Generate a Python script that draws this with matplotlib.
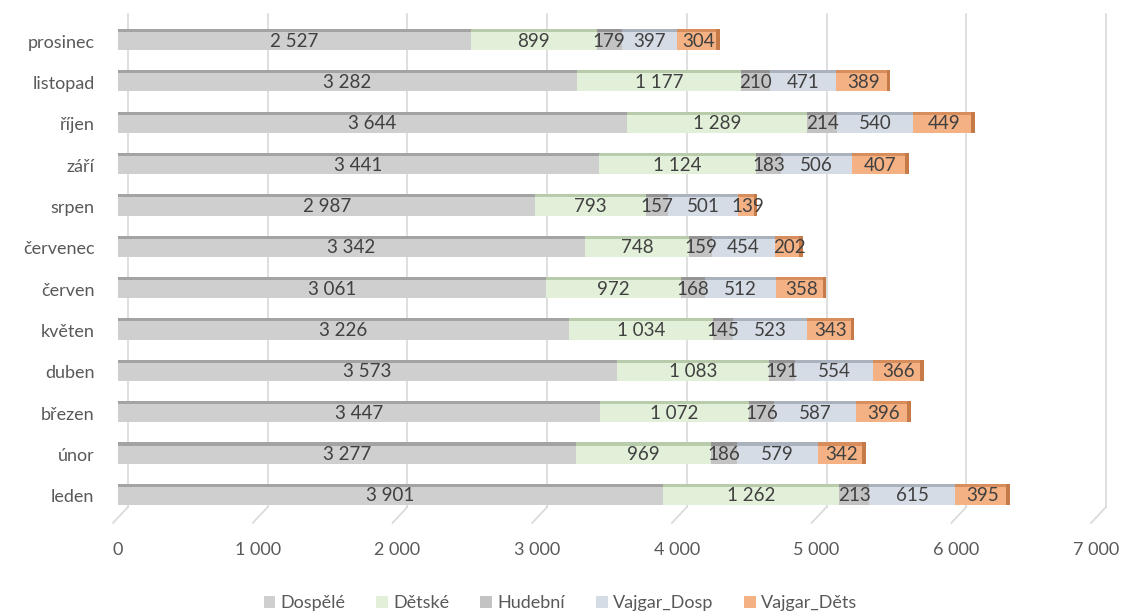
import matplotlib.pyplot as plt
import matplotlib.transforms as mtransforms
from matplotlib.patches import Patch
import numpy as np

plt.rcParams['font.family'] = ['Lato', 'DejaVu Sans']

months = ["leden", "únor", "březen", "duben", "květen", "červen",
          "červenec", "srpen", "září", "říjen", "listopad", "prosinec"]
series_names = ["Dospělé", "Dětské", "Hudební", "Vajgar_Dosp", "Vajgar_Děts"]
dospele = [3901, 3277, 3447, 3573, 3226, 3061, 3342, 2987, 3441, 3644, 3282, 2527]
detske = [1262, 969, 1072, 1083, 1034, 972, 748, 793, 1124, 1289, 1177, 899]
hudebni = [213, 186, 176, 191, 145, 168, 159, 157, 183, 214, 210, 179]
vajgar_dosp = [615, 579, 587, 554, 523, 512, 454, 501, 506, 540, 471, 397]
vajgar_dets = [395, 342, 396, 366, 343, 358, 202, 139, 407, 449, 389, 304]
xticks = [0, 1000, 2000, 3000, 4000, 5000, 6000, 7000]

face = ["#d0cfcf", "#e2f0d9", "#c3c3c3", "#d6dce5", "#f4b183"]
top = ["#a3a3a3", "#b8ccab", "#949494", "#aab2bd", "#d88e5c"]


def fmt(v):
    return f"{v:,}".replace(",", " ")


W, H = 1121, 616
fig = plt.figure(figsize=(W / 100, H / 100), dpi=100)
ax = fig.add_axes([118 / W, 1 - 507 / H, (1096 - 118) / W, (507 - 14) / H])
ax.set_xlim(0, 7000)
ax.set_ylim(-0.266, 11.653)
for s in ax.spines.values():
    s.set_visible(False)

# back wall gridlines shifted right (3D look) + short diagonal floor lines
shift = mtransforms.ScaledTranslation(10 / 100, 0, fig.dpi_scale_trans)
tr = mtransforms.blended_transform_factory(ax.transData, ax.transAxes)
for t in xticks:
    ax.plot([t, t], [0, 1], color="#d9d9d9", lw=1.2, transform=tr + shift,
            zorder=0, clip_on=False)
    x0 = ax.transData.transform((t, 0))[0] + 10
    yb = H - 507
    fig.add_artist(plt.Line2D([x0 / W, (x0 - 15) / W],
                              [yb / H, (yb - 16) / H],
                              color="#d9d9d9", lw=1.2))

y = np.arange(len(months))
h = 0.44
strip = 0.075
data = [dospele, detske, hudebni, vajgar_dosp, vajgar_dets]
left = np.zeros(len(months))
for i, vals in enumerate(data):
    vals = np.array(vals)
    ax.barh(y, vals, left=left, height=h, color=face[i], zorder=2)
    ax.barh(y + h / 2 + strip / 2, vals, left=left, height=strip,
            color=top[i], zorder=2)
    for k in range(len(months)):
        ax.text(left[k] + vals[k] / 2, y[k], fmt(int(vals[k])),
                ha="center", va="center", fontsize=13.5, color="#404040",
                zorder=4)
    left = left + vals

# right side face at the end of each stack
ax.barh(y + strip / 2, 28, left=left - 28, height=h + strip,
        color="#c57a47", zorder=3)

ax.set_yticks(y)
ax.set_yticklabels(months, fontsize=13, color="#595959")
ax.set_xticks(xticks)
ax.set_xticklabels([fmt(t) for t in xticks], fontsize=13, color="#595959")
ax.tick_params(axis="both", length=0)
ax.tick_params(axis="x", pad=25)
ax.tick_params(axis="y", pad=17)

handles = [Patch(facecolor=face[i], edgecolor="none", label=series_names[i])
           for i in range(5)]
leg = fig.legend(handles=handles, loc="center", ncol=5,
                 bbox_to_anchor=(0.5, 1 - 603 / H), frameon=False,
                 fontsize=13, handlelength=0.65, handleheight=0.65,
                 handletextpad=0.3, columnspacing=1.7)
for t in leg.get_texts():
    t.set_color("#595959")

fig.savefig("out.png", dpi=100)
